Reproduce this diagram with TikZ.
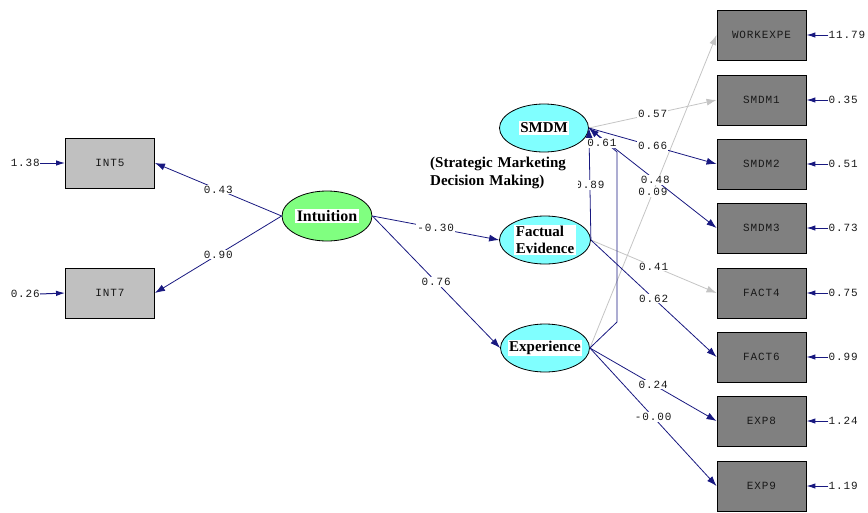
\documentclass[tikz,border=0pt]{standalone}
\usepackage{fontspec}
\setmainfont{Liberation Serif}
\newfontfamily\monofnt[LetterSpace=8]{Liberation Mono}
\usetikzlibrary{arrows.meta,shapes.geometric}
\definecolor{pathblue}{RGB}{24,24,128}
\definecolor{pathgray}{RGB}{196,196,196}
\definecolor{latgreen}{RGB}{128,255,128}
\definecolor{latcyan}{RGB}{128,255,255}
\definecolor{obsdark}{RGB}{128,128,128}
\definecolor{obslight}{RGB}{192,192,192}

\begin{document}
\begin{tikzpicture}[x=1pt,y=-1pt,
  obsbox/.style={draw=black, line width=0.9pt, rectangle, minimum width=89pt,
    minimum height=50pt, inner sep=0pt,
    font=\monofnt\fontsize{11}{11}\selectfont, text=black!90},
  lightbox/.style={obsbox, fill=obslight},
  darkbox/.style={obsbox, fill=obsdark},
  latent/.style={draw=black, line width=0.8pt, ellipse, inner sep=0pt,
    minimum width=89pt, minimum height=48pt},
  latname/.style={fill=white, inner sep=1.5pt, align=left,
    font=\bfseries\fontsize{15}{17}\selectfont},
  coef/.style={fill=white, inner sep=1pt,
    font=\monofnt\fontsize{11}{11}\selectfont, text=black!90},
  errlbl/.style={inner sep=0pt, font=\monofnt\fontsize{11}{11}\selectfont,
    text=black!90},
  bluepath/.style={draw=pathblue, line width=0.8pt,
    -{Latex[length=10pt,width=7pt]}},
  graypath/.style={draw=pathgray, line width=0.8pt,
    -{Latex[length=10pt,width=7pt]}},
  errarrow/.style={draw=pathblue, line width=1pt,
    -{Latex[length=9pt,width=5.5pt]}},
]
\useasboundingbox (0,0) rectangle (868,512);

% observed indicators of Intuition
\node[lightbox] (int5) at (110,163) {INT5};
\node[lightbox] (int7) at (110,293) {INT7};

% observed indicators on the right
\node[darkbox] (workexpe) at (761.5,35)  {WORKEXPE};
\node[darkbox] (smdm1)    at (761.5,100) {SMDM1};
\node[darkbox] (smdm2)    at (761.5,164) {SMDM2};
\node[darkbox] (smdm3)    at (761.5,228) {SMDM3};
\node[darkbox] (fact4)    at (761.5,293) {FACT4};
\node[darkbox] (fact6)    at (761.5,357) {FACT6};
\node[darkbox] (exp8)     at (761.5,421) {EXP8};
\node[darkbox] (exp9)     at (761.5,486) {EXP9};

% latent variables
\node[latent, fill=latgreen, minimum width=90pt, minimum height=50pt,
  label={[latname, font=\bfseries\fontsize{16}{18}\selectfont]center:Intuition}] (intu) at (327,216) {};
\node[latent, fill=latcyan, label={[latname]center:SMDM}] (smdm) at (544,128) {};
\node[latent, fill=latcyan, minimum width=91pt,
  label={[latname]center:Factual\\Evidence}] (fact) at (545,240) {};
\node[latent, fill=latcyan, label={[latname]center:Experience}] (expe) at (545,348) {};

% Intuition paths
\draw[bluepath] (intu.west) -- node[coef]{0.43} (int5.east);
\draw[bluepath] (intu.west) -- node[coef]{0.90} (int7.east);
\draw[bluepath] (intu.east) -- node[coef]{-0.30} (fact.west);
\draw[bluepath] (intu.east) -- node[coef]{0.76} (expe.west);

% loadings of the three latent factors
\draw[graypath] (expe.east) -- node[coef, pos=0.498]{0.09} (workexpe.west);
\draw[graypath] (smdm.east) -- node[coef]{0.57} (smdm1.west);
\draw[bluepath] (smdm.east) -- node[coef]{0.66} (smdm2.west);
\draw[bluepath] (smdm.east) -- node[coef, pos=0.52]{0.48} (smdm3.west);
\draw[graypath] (fact.east) -- node[coef]{0.41} (fact4.west);
\draw[bluepath] (fact.east) -- node[coef]{0.62} (fact6.west);
\draw[bluepath] (expe.east) -- node[coef]{0.24} (exp8.west);
\draw[bluepath] (expe.east) -- node[coef]{-0.00} (exp9.west);

% covariances among the latent factors
\coordinate (bendlow) at (617,322);
\coordinate (bendhigh) at (617,152);
\draw[bluepath] (fact.east) -- (smdm.east);
\draw[bluepath] (expe.east) -- (bendlow) -- (bendhigh) -- (smdm.east);
\node[coef] (c89) at (590,185) {0.89};
\node[coef] (c61) at (602,143) {0.61};

% caption of SMDM (its white ground overlaps the 0.89 value)
\node[anchor=north west, fill=white, inner sep=2pt, text width=146pt,
  align=left, font=\bfseries\fontsize{15}{18}\selectfont] (note) at (428,155)
  {(Strategic Marketing\\Decision Making)};

% error variances
\node[errlbl, anchor=east] (e5) at (40,163) {1.38};
\node[errlbl, anchor=east] (e7) at (40,294) {0.26};
\draw[errarrow] (e5.east) -- (int5.west);
\draw[errarrow] (e7.east) -- (int7.west);

\foreach \obs/\val in {workexpe/11.79, smdm1/0.35, smdm2/0.51, smdm3/0.73,
                       fact4/0.75, fact6/0.99, exp8/1.24, exp9/1.19} {
  \node[errlbl, anchor=west] (err-\obs) at ([xshift=22pt]\obs.east) {\val};
  \draw[errarrow] (err-\obs.west) -- (\obs.east);
}
\end{tikzpicture}
\end{document}
